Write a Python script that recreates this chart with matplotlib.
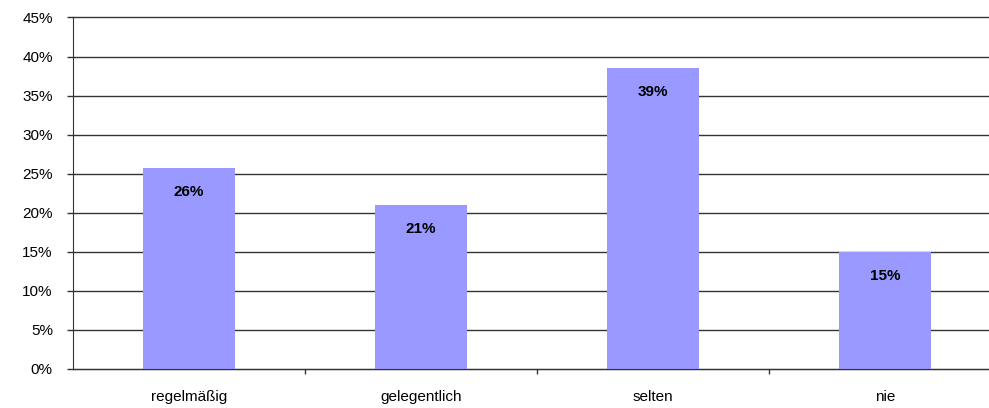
import matplotlib.pyplot as plt
import numpy as np

kategorien = ['regelmäßig', 'gelegentlich', 'selten', 'nie']
werte = [25.7, 21.0, 38.5, 15.0]
beschriftungen = ['26%', '21%', '39%', '15%']
y_ticks = [0, 5, 10, 15, 20, 25, 30, 35, 40, 45]

plt.rcParams['font.family'] = ['Liberation Sans', 'DejaVu Sans']

fig = plt.figure(figsize=(9.89, 4.08), dpi=100)
# Zeichenfläche reicht etwas über den rechten Rand hinaus (wie im Original)
ax = fig.add_axes([73 / 989, 1 - 369 / 408, (1001 - 73) / 989, (369 - 17.5) / 408])

x = np.arange(len(kategorien))
ax.bar(x, werte, width=0.40, color='#9999FF', zorder=2)

for xi, w, txt in zip(x, werte, beschriftungen):
    ax.annotate(txt, (xi, w), xytext=(0, -24), textcoords='offset pixels',
                ha='center', va='center', fontsize=11, fontweight='bold',
                color='black', zorder=3)

ax.set_xlim(-0.5, len(kategorien) - 0.5)
ax.set_ylim(0, 45)
ax.set_yticks(y_ticks)
ax.set_yticklabels([f'{t}%' for t in y_ticks], fontsize=11)
ax.yaxis.grid(True, color='#333333', linewidth=1, zorder=1)
for gl in ax.get_ygridlines():
    gl.set_clip_on(False)
ax.set_axisbelow(True)

ax.set_xticks(x)
ax.set_xticklabels(kategorien, fontsize=11)
ax.tick_params(axis='x', length=0, pad=15)
ax.set_xticks(np.arange(0.5, len(kategorien) - 0.5, 1), minor=True)
ax.tick_params(axis='x', which='minor', length=3.5, width=1, color='#333333')
ax.tick_params(axis='y', length=4.5, width=1, color='#333333', pad=10)

for s in ['top', 'right']:
    ax.spines[s].set_visible(False)
ax.spines['left'].set_color('#333333')
ax.spines['bottom'].set_color('#333333')

fig.savefig('out.png', dpi=100)
